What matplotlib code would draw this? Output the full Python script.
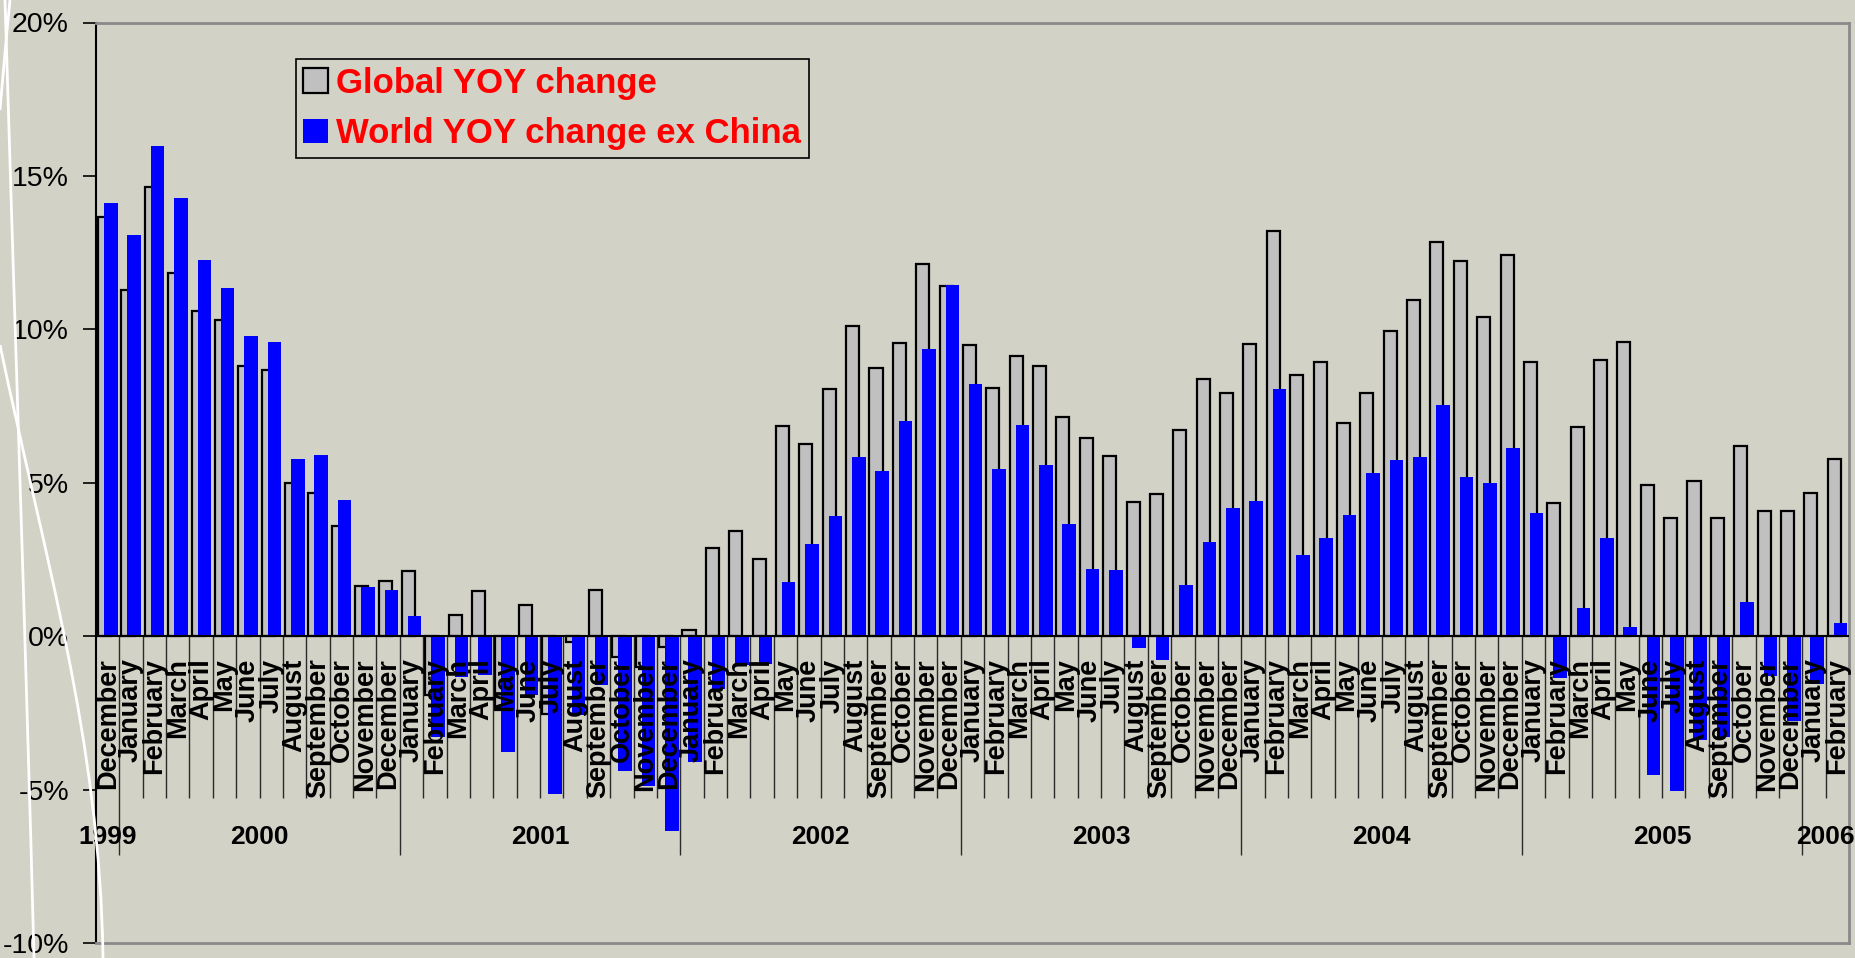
import numpy as np
import matplotlib
matplotlib.use("Agg")
import matplotlib.pyplot as plt
from matplotlib.path import Path
from matplotlib.patches import PathPatch
from matplotlib import font_manager

plt.rcParams['font.family'] = ['Liberation Sans', 'DejaVu Sans']

# ---------------- data ----------------
months = (["December"] +
          ["January", "February", "March", "April", "May", "June", "July",
           "August", "September", "October", "November", "December"] * 6 +
          ["January", "February"])

global_yoy = [13.66,
              11.29, 14.65, 11.83, 10.59, 10.32, 8.80, 8.67, 5.00, 4.68, 3.59, 1.64, 1.80,
              2.13, -1.93, 0.69, 1.46, -2.35, 1.02, -2.53, -0.20, 1.51, -0.68, -1.00, -0.36,
              0.20, 2.87, 3.43, 2.52, 6.85, 6.27, 8.07, 10.10, 8.75, 9.57, 12.14, 11.40,
              9.50, 8.10, 9.14, 8.79, 7.13, 6.45, 5.86, 4.38, 4.64, 6.73, 8.39, 7.92,
              9.53, 13.19, 8.51, 8.93, 6.95, 7.92, 9.95, 10.96, 12.83, 12.23, 10.40, 12.42,
              8.94, 4.35, 6.81, 9.01, 9.59, 4.94, 3.84, 5.05, 3.86, 6.21, 4.09, 4.08,
              4.66, 5.78]

world_ex_china = [14.13,
                  13.09, 15.98, 14.29, 12.25, 11.36, 9.79, 9.58, 5.76, 5.92, 4.44, 1.60, 1.52,
                  0.67, -3.29, -1.33, -1.28, -3.78, -1.91, -5.16, -2.56, -1.60, -4.41, -4.89, -6.36,
                  -4.10, -1.71, -0.95, -0.90, 1.78, 3.02, 3.92, 5.84, 5.39, 7.01, 9.35, 11.46,
                  8.22, 5.44, 6.88, 5.59, 3.66, 2.19, 2.15, -0.37, -0.78, 1.68, 3.06, 4.17,
                  4.42, 8.05, 2.66, 3.19, 3.94, 5.31, 5.75, 5.84, 7.52, 5.20, 4.98, 6.13,
                  4.01, -1.37, 0.92, 3.21, 0.30, -4.54, -5.03, -3.37, -3.30, 1.10, -1.30, -2.76,
                  -1.55, 0.42]

years = ["1999", "2000", "2001", "2002", "2003", "2004", "2005", "2006"]
year_months = [1, 12, 12, 12, 12, 12, 12, 2]

series_names = ["Global YOY change", "World YOY change ex China"]
y_ticks = [-10, -5, 0, 5, 10, 15, 20]

# ---------------- style ----------------
BG = '#D2D2C7'
W, H = 1856, 958

installed = {f.name for f in font_manager.fontManager.ttflist}
if 'Liberation Sans Narrow' in installed:
    tick_family, tick_size = ['Liberation Sans Narrow', 'DejaVu Sans'], 24
else:
    tick_family, tick_size = ['Liberation Sans', 'DejaVu Sans'], 20.5

fig = plt.figure(figsize=(W / 100, H / 100), dpi=100, facecolor=BG)
left, right, top, bottom = 96, 1849, 22.5, 943
ax = fig.add_axes([left / W, 1 - bottom / H, (right - left) / W, (bottom - top) / H])
ax.set_facecolor(BG)

n = len(months)
x = np.arange(n) + 0.5
b1 = ax.bar(x - 0.13, global_yoy, width=0.56, color='#C0C0C0', edgecolor='black',
            linewidth=1.6, zorder=2, label=series_names[0])
b2 = ax.bar(x + 0.135, world_ex_china, width=0.58, color='#0000FF', edgecolor='none',
            zorder=3, label=series_names[1])

ax.set_xlim(0, n)
ax.set_ylim(-10, 20)

# category axis at zero
ax.axhline(0, color='black', lw=1.5, zorder=4)

# month separators and year separators
bounds = np.arange(n + 1)
year_bounds = np.concatenate([[0], np.cumsum(year_months)])
month_only = [b for b in bounds if b not in year_bounds]
ax.vlines(month_only, -5.27, 0, color='#2a2a2a', lw=1.0, zorder=1)
ax.vlines(year_bounds[1:-1], -7.13, 0, color='#2a2a2a', lw=1.0, zorder=1)

for xi, m in zip(x, months):
    ax.text(xi, -0.72, m, rotation=90, ha='center', va='top', fontsize=19.5,
            fontweight='bold', color='black', zorder=5)

for yr, a, b in zip(years, year_bounds[:-1], year_bounds[1:]):
    ax.text((a + b) / 2, -6.54, yr, ha='center', va='center', fontsize=19,
            fontweight='bold', color='black', zorder=5)

# axes styling
ax.set_xticks([])
ax.set_yticks(y_ticks)
ax.set_yticklabels([f"{v}%" for v in y_ticks], family=tick_family, fontsize=tick_size)
ax.tick_params(axis='y', direction='out', length=9.5, width=1.2, pad=10,
               colors='black')
for s in ['top', 'right', 'bottom']:
    ax.spines[s].set_color('#8a8a8a')
    ax.spines[s].set_linewidth(2)
ax.spines['left'].set_color('black')
ax.spines['left'].set_linewidth(1.5)

leg = ax.legend(handles=[b1, b2], labels=series_names, loc='upper left',
                bbox_to_anchor=(0.114, 0.9603), borderaxespad=0,
                prop={'family': 'Liberation Sans', 'weight': 'bold', 'size': 25},
                labelcolor='#FF0000', frameon=True, fancybox=False,
                edgecolor='black', facecolor=BG, framealpha=1,
                borderpad=0.22, labelspacing=0.5, handlelength=0.7,
                handleheight=0.7, handletextpad=0.25)
leg.get_frame().set_linewidth(1.2)
leg.set_zorder(10)

# decorative white background curves on the left margin
def curve(pts):
    pts = np.array(pts, dtype=float)
    verts = np.column_stack([pts[:, 0] / W, 1 - pts[:, 1] / H])
    codes = [Path.MOVETO] + [Path.CURVE4] * (len(verts) - 1)
    p = PathPatch(Path(verts, codes), facecolor='none', edgecolor='white', lw=2,
                  transform=fig.transFigure, zorder=20)
    fig.add_artist(p)

curve([(10, 0), (6, 40), (3, 75), (0, 110)])
curve([(5, 0), (14, 300), (26, 650), (34, 958)])
curve([(0, 345), (45, 560), (100, 740), (103, 958)])

fig.savefig("out.png", dpi=100, facecolor=BG)
